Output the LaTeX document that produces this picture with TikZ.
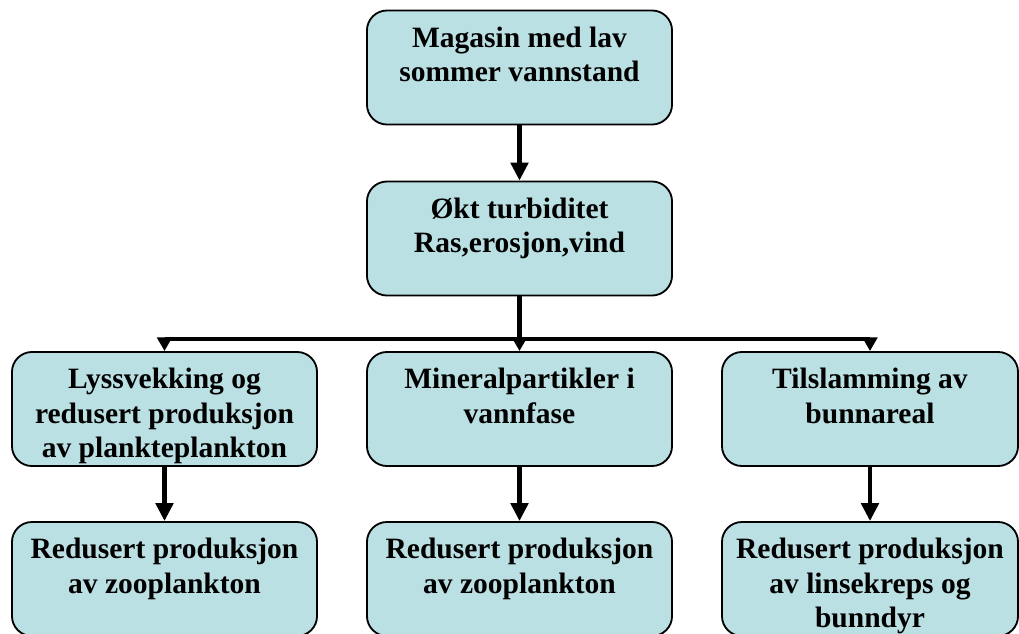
\documentclass[tikz,border=0pt]{standalone}
\usepackage{fontspec}
\setmainfont{Liberation Serif}
\usetikzlibrary{arrows.meta}
\definecolor{boksblaa}{RGB}{187,224,227}
\newcommand{\bokstekst}[2][7.4cm]{\parbox[c][2.85cm][t]{#1}{\centering\rule{0pt}{0.92cm}#2}}
\tikzset{
  boks/.style={draw, line width=1.3pt, rounded corners=0.5cm, fill=boksblaa,
    minimum width=7.625cm, minimum height=2.85cm, inner sep=0pt,
    font=\bfseries\fontsize{21}{24.5}\selectfont},
  smalboks/.style={boks, minimum width=7.4cm},
  linje/.style={line width=3.5pt},
  pil/.style={linje, -{Triangle[length=0.45cm,width=0.43cm]}},
  kortpil/.style={linje, -{Triangle[length=0.34cm,width=0.36cm]}},
}
\begin{document}
\begin{tikzpicture}[x=0.025cm, y=-0.025cm]
  \useasboundingbox (0,0) rectangle (1019,633);
  \clip (0,0) rectangle (1019,633);
  \node[boks] (magasin) at (519.5,67.5) {\bokstekst{Magasin med lav\\sommer vannstand}};
  \node[boks] (turbiditet) at (519.5,238.5) {\bokstekst{Økt turbiditet\\Ras,erosjon,vind}};

  \node[boks] (lys) at (164.5,409) {\bokstekst{Lyssvekking og\\redusert produksjon\\av plankteplankton}};
  \node[boks] (mineral) at (519.5,409) {\bokstekst{Mineralpartikler i\\vannfase}};
  \node[smalboks] (slam) at (870,409) {\bokstekst[7.2cm]{Tilslamming av\\bunnareal}};

  \node[boks] (zoo1) at (164.5,579) {\bokstekst{Redusert produksjon\\av zooplankton}};
  \node[boks] (zoo2) at (519.5,579) {\bokstekst{Redusert produksjon\\av zooplankton}};
  \node[smalboks] (linse) at (870,579) {\bokstekst[7.2cm]{Redusert produksjon\\av linsekreps og\\bunndyr}};

  \draw[pil] (magasin) -- (turbiditet);
  \coordinate (gren) at (519.5,339);
  \draw[linje] (turbiditet.south) -- (gren);
  \draw[linje] (gren -| lys.north) -- (gren -| slam.north);
  \draw[kortpil] (gren -| lys.north) -- (lys.north);
  \draw[kortpil] (gren) -- (mineral.north);
  \draw[kortpil] (gren -| slam.north) -- (slam.north);

  \draw[pil] (lys) -- (zoo1);
  \draw[pil] (mineral) -- (zoo2);
  \draw[pil] (slam) -- (linse);
\end{tikzpicture}
\end{document}
